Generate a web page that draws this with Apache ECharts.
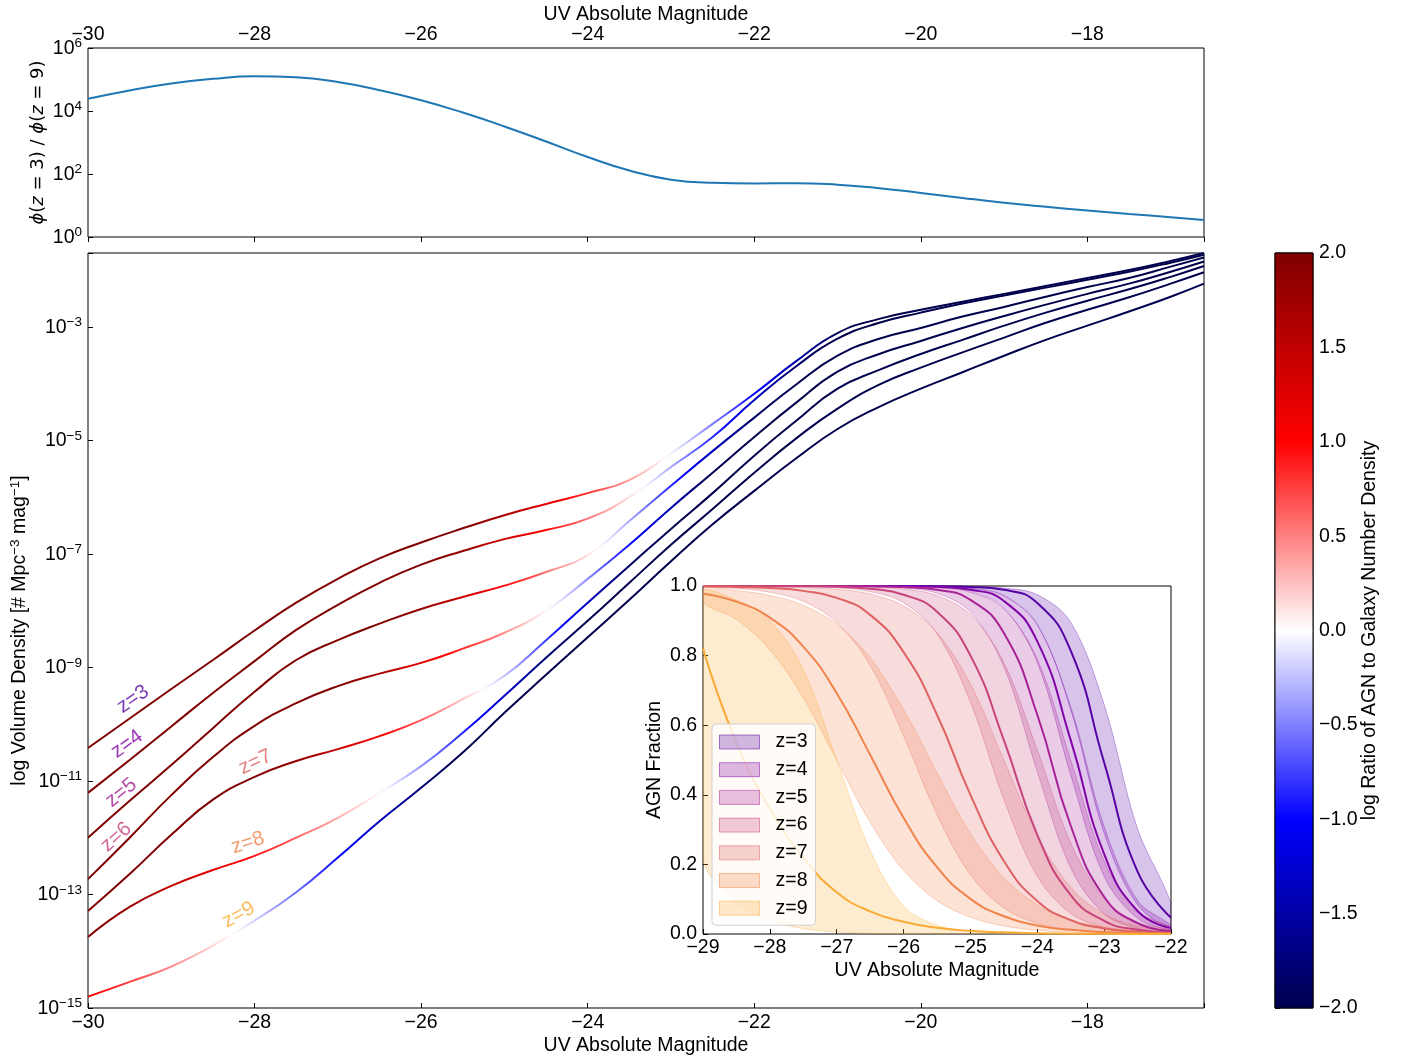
<!DOCTYPE html>
<html><head><meta charset="utf-8">
<script src="https://cdn.jsdelivr.net/npm/echarts@6/dist/echarts.min.js"></script>
<style>html,body{margin:0;padding:0;background:#fff}#c{width:1401px;height:1059px}</style>
</head><body><div id="c"></div>
<script>
// ---------------- DATA ----------------
const mags = [-30,-29.5,-29,-28.5,-28,-27.5,-27,-26.5,-26,-25.5,-25,-24.5,-24,-23.5,-23,-22.5,-22,-21.5,-21,-20.5,-20,-19.5,-19,-18.5,-18,-17.5,-17,-16.6];
const zNames = ['z=3','z=4','z=5','z=6','z=7','z=8','z=9'];
// log10 volume density (total AGN + galaxy)
const logPhi_z3 = [-10.42,-9.90,-9.38,-8.87,-8.35,-7.86,-7.44,-7.08,-6.80,-6.55,-6.32,-6.12,-5.93,-5.70,-5.23,-4.71,-4.18,-3.61,-3.11,-2.86,-2.70,-2.56,-2.42,-2.28,-2.14,-2.00,-1.84,-1.70];
const logPhi_z4 = [-11.21,-10.63,-10.04,-9.45,-8.89,-8.34,-7.90,-7.51,-7.19,-6.95,-6.74,-6.58,-6.38,-6.00,-5.47,-4.94,-4.29,-3.70,-3.21,-2.93,-2.75,-2.59,-2.45,-2.31,-2.17,-2.03,-1.87,-1.73];
const logPhi_z5 = [-12.00,-11.35,-10.72,-10.07,-9.43,-8.87,-8.52,-8.23,-7.97,-7.76,-7.56,-7.32,-7.02,-6.42,-5.80,-5.19,-4.60,-4.02,-3.51,-3.21,-3.02,-2.82,-2.65,-2.47,-2.30,-2.14,-1.94,-1.78];
const logPhi_z6 = [-12.73,-12.00,-11.25,-10.58,-10.03,-9.63,-9.33,-9.11,-8.92,-8.67,-8.39,-8.00,-7.44,-6.84,-6.19,-5.57,-4.94,-4.34,-3.79,-3.48,-3.25,-3.02,-2.81,-2.61,-2.42,-2.24,-2.03,-1.85];
const logPhi_z7 = [-13.29,-12.64,-11.95,-11.33,-10.93,-10.65,-10.44,-10.21,-9.93,-9.56,-9.15,-8.52,-7.86,-7.21,-6.56,-5.93,-5.27,-4.66,-4.09,-3.76,-3.48,-3.23,-2.98,-2.75,-2.54,-2.34,-2.12,-1.93];
const logPhi_z8 = [-13.75,-13.22,-12.85,-12.57,-12.32,-12.00,-11.65,-11.21,-10.74,-10.15,-9.50,-8.83,-8.18,-7.51,-6.84,-6.21,-5.57,-4.97,-4.44,-4.02,-3.72,-3.45,-3.19,-2.93,-2.70,-2.48,-2.24,-2.04];
const logPhi_z9 = [-14.80,-14.54,-14.27,-13.90,-13.46,-12.96,-12.35,-11.71,-11.12,-10.50,-9.80,-9.13,-8.47,-7.81,-7.13,-6.48,-5.89,-5.32,-4.80,-4.41,-4.09,-3.80,-3.51,-3.23,-2.98,-2.73,-2.47,-2.24];
// log ratio of AGN to galaxy number density (line colour)
const logRatio_z3 = [2,2,2,2,2,2,2,2,2,2,1.66,1.23,0.81,0.38,-0.05,-0.52,-1.0,-1.47,-1.95,-2,-2,-2,-2,-2,-2,-2,-2,-2];
const logRatio_z4 = [2,2,2,2,2,2,2,2,2,1.83,1.40,0.98,0.55,0.13,-0.35,-0.85,-1.35,-1.85,-2,-2,-2,-2,-2,-2,-2,-2,-2,-2];
const logRatio_z5 = [2,2,2,2,2,2,2,2,1.83,1.40,0.98,0.55,0.13,-0.35,-0.85,-1.35,-1.85,-2,-2,-2,-2,-2,-2,-2,-2,-2,-2,-2];
const logRatio_z6 = [2,2,2,2,2,2,2,1.64,1.24,0.84,0.44,0.04,-0.45,-0.95,-1.45,-1.95,-2,-2,-2,-2,-2,-2,-2,-2,-2,-2,-2,-2];
const logRatio_z7 = [2,2,2,2,2,1.84,1.44,1.04,0.64,0.24,-0.22,-0.77,-1.32,-1.87,-2,-2,-2,-2,-2,-2,-2,-2,-2,-2,-2,-2,-2,-2];
const logRatio_z8 = [2,1.83,1.53,1.23,0.93,0.63,0.33,0.03,-0.41,-0.86,-1.31,-1.76,-2,-2,-2,-2,-2,-2,-2,-2,-2,-2,-2,-2,-2,-2,-2,-2];
const logRatio_z9 = [1.08,0.78,0.48,0.18,-0.16,-0.56,-0.96,-1.36,-1.76,-2,-2,-2,-2,-2,-2,-2,-2,-2,-2,-2,-2,-2,-2,-2,-2,-2,-2,-2];
// top panel: log10 phi(z=3)/phi(z=9)
const logPhiRatio_3_9 = [4.39,4.65,4.87,5.02,5.10,5.07,4.92,4.66,4.34,3.95,3.51,3.03,2.54,2.11,1.82,1.72,1.70,1.71,1.66,1.55,1.40,1.24,1.09,0.96,0.84,0.73,0.63,0.54];
// inset: AGN fraction (median, lower, upper)
const insetMags = [-29,-28.5,-28,-27.5,-27,-26.5,-26,-25.5,-25,-24.5,-24,-23.5,-23,-22.5,-22];
const frac_z3    = [1,1,1,1,1,1,0.9999,0.9994,0.9974,0.989,0.951,0.814,0.493,0.179,0.047];
const frac_z3_lo = [1,1,1,1,1,0.9999,0.9997,0.9986,0.9939,0.973,0.890,0.645,0.29,0.084,0.020];
const frac_z3_hi = [1,1,1,1,1,1,1,0.9997,0.9987,0.9942,0.975,0.896,0.659,0.302,0.088];
const frac_z4    = [1,1,1,1,1,0.9999,0.9994,0.9975,0.989,0.957,0.841,0.557,0.23,0.066,0.017];
const frac_z4_lo = [1,1,1,1,1,0.9998,0.999,0.9963,0.984,0.937,0.78,0.457,0.166,0.045,0.011];
const frac_z4_hi = [1,1,1,1,1,1,0.9997,0.9983,0.993,0.971,0.888,0.653,0.309,0.096,0.0245];
const frac_z5    = [1,1,1,0.9999,0.9998,0.9992,0.997,0.989,0.96,0.865,0.63,0.311,0.107,0.031,0.008];
const frac_z5_lo = [1,1,1,0.9999,0.9996,0.9985,0.9943,0.979,0.925,0.768,0.467,0.19,0.058,0.016,0.0044];
const frac_z5_hi = [1,1,1,1,0.9999,0.9996,0.9987,0.995,0.9815,0.934,0.79,0.5,0.21,0.066,0.0185];
const frac_z6    = [1,0.9999,0.9997,0.9992,0.9975,0.992,0.975,0.926,0.80,0.557,0.285,0.112,0.038,0.012,0.004];
const frac_z6_lo = [1,0.9998,0.9995,0.9984,0.995,0.984,0.952,0.863,0.666,0.387,0.166,0.059,0.0196,0.0063,0.002];
const frac_z6_hi = [1,1,0.9999,0.9997,0.9991,0.9972,0.9912,0.9726,0.918,0.78,0.529,0.262,0.101,0.034,0.011];
const frac_z7    = [0.999,0.997,0.994,0.986,0.966,0.917,0.81,0.63,0.40,0.21,0.095,0.04,0.016,0.006,0.0025];
const frac_z7_lo = [0.9972,0.993,0.982,0.956,0.895,0.772,0.569,0.343,0.17,0.075,0.031,0.0124,0.0049,0.0019,0.0008];
const frac_z7_hi = [0.9998,0.9994,0.9985,0.9963,0.9906,0.977,0.943,0.866,0.718,0.5,0.282,0.134,0.057,0.023,0.0093];
const frac_z8    = [0.978,0.955,0.909,0.826,0.692,0.515,0.334,0.192,0.101,0.051,0.0245,0.012,0.0056,0.0027,0.0013];
const frac_z8_lo = [0.952,0.904,0.817,0.679,0.5,0.321,0.183,0.096,0.048,0.023,0.011,0.0053,0.0025,0.0012,0.0006];
const frac_z8_hi = [0.9939,0.987,0.973,0.945,0.89,0.794,0.645,0.463,0.289,0.162,0.084,0.041,0.020,0.0096,0.0046];
const frac_z9    = [0.82,0.55,0.36,0.22,0.12,0.065,0.035,0.018,0.009,0.005,0.002,0.001,0.0005,0.0002,0.0001];
const frac_z9_lo = [0.22,0.09,0.04,0.015,0.006,0.002,0.001,0.0005,0.0002,0.0001,0,0,0,0,0];
const frac_z9_hi = [0.985,0.96,0.9,0.76,0.5,0.24,0.08,0.025,0.008,0.003,0.001,0.0005,0.0002,0.0001,0];
// tick values
const mainXTicks = [-30,-28,-26,-24,-22,-20,-18];
const mainYTicks = [-15,-13,-11,-9,-7,-5,-3];
const topYTicks = [0,2,4,6];
const insetXTicks = [-29,-28,-27,-26,-25,-24,-23,-22];
const cbarTicks = [-2,-1.5,-1,-0.5,0,0.5,1,1.5,2];
// annotation positions of the z labels (data coords) and their angle
const zLabelPos = [[-29.46,-9.56],[-29.53,-10.35],[-29.60,-11.21],[-29.66,-11.99],[-27.99,-10.67],[-28.08,-12.09],[-28.19,-13.36]];
const zLabelAngle = [35,36,39,42,25,18,29];

// ---------------- STYLE ----------------
const FONT = "'Liberation Sans', Arial, Helvetica, sans-serif";
const MATH = "'DejaVu Sans', sans-serif";
const FS = 19.5;
const zColors = ['#5502a4','#8104a7','#a82296','#c8437b','#df6263','#f0844c','#faab35'];
const MINUS = '\u2212';
function fmt(v){ return v < 0 ? MINUS + String(Math.abs(v)) : String(v); }
function fmt1(v){ const s = Math.abs(v).toFixed(1); return v < -1e-9 ? MINUS + s : s; }
function rgba(hex, a){ const n = parseInt(hex.slice(1),16); return 'rgba('+((n>>16)&255)+','+((n>>8)&255)+','+(n&255)+','+a+')'; }
function seismic(v){
  const t = (Math.max(-2, Math.min(2, v)) + 2) / 4;
  const st = [[0,[0,0,76.5]],[0.25,[0,0,255]],[0.5,[255,255,255]],[0.75,[255,0,0]],[1,[127.5,0,0]]];
  for (let i = 0; i < st.length - 1; i++) {
    if (t <= st[i+1][0]) {
      const f = (t - st[i][0]) / (st[i+1][0] - st[i][0]);
      const c = st[i][1].map((x,j)=> Math.round(x + (st[i+1][1][j]-x)*f));
      return 'rgb('+c.join(',')+')';
    }
  }
  return 'rgb(128,0,0)';
}
function gradientFor(ratio){
  const m0 = mags[0], m1 = mags[mags.length-1];
  const stops = [];
  const S = 6;
  for (let i = 0; i < mags.length - 1; i++) {
    for (let s = 0; s < S; s++) {
      const t = s / S;
      const m = mags[i] + (mags[i+1]-mags[i])*t;
      const r = ratio[i] + (ratio[i+1]-ratio[i])*t;
      stops.push({offset: (m-m0)/(m1-m0), color: seismic(r)});
    }
  }
  stops.push({offset:1, color: seismic(ratio[ratio.length-1])});
  return new echarts.graphic.LinearGradient(0,0,1,0,stops);
}
const richTick = {
  b: {fontFamily: FONT, fontSize: FS, color: '#000', verticalAlign: 'bottom', lineHeight: 21},
  s: {fontFamily: FONT, fontSize: 13.5, color: '#000', verticalAlign: 'bottom', lineHeight: 14, padding: [0,0,8,0]}
};
const tickStyle = {show:true, inside:true, length:5, lineStyle:{color:'#000', width:1}};
const labelBase = {fontFamily: FONT, fontSize: FS, color: '#000'};
const nameBase = {fontFamily: FONT, fontSize: FS, color: '#000'};

const logPhi = [logPhi_z3, logPhi_z4, logPhi_z5, logPhi_z6, logPhi_z7, logPhi_z8, logPhi_z9];
const logRatio = [logRatio_z3, logRatio_z4, logRatio_z5, logRatio_z6, logRatio_z7, logRatio_z8, logRatio_z9];
const fracMed = [frac_z3, frac_z4, frac_z5, frac_z6, frac_z7, frac_z8, frac_z9];
const fracLo = [frac_z3_lo, frac_z4_lo, frac_z5_lo, frac_z6_lo, frac_z7_lo, frac_z8_lo, frac_z9_lo];
const fracHi = [frac_z3_hi, frac_z4_hi, frac_z5_hi, frac_z6_hi, frac_z7_hi, frac_z8_hi, frac_z9_hi];

// ---------------- CHART ----------------
const chart = echarts.init(document.getElementById('c'), null, {renderer:'canvas'});
const grids = [
  {left:88, top:48, width:1116, height:189},
  {left:88, top:253, width:1116, height:755},
  {left:703, top:586, width:468, height:348, backgroundColor:'#fff'},
  {left:1275, top:253, width:38, height:755}
].map(g => Object.assign({show:true, borderColor:'#000', borderWidth:1, containLabel:false, outerBoundsMode:'none', z:0}, g));

const SM = 0.5;
const series = [];
series.push({type:'line', name:'ratio', xAxisIndex:0, yAxisIndex:0, data: mags.map((m,i)=>[m, logPhiRatio_3_9[i]]),
  showSymbol:false, smooth:SM, lineStyle:{color:'#1f77b4', width:2}, silent:true});
zNames.forEach((n,k)=>{
  series.push({type:'line', name:'LF '+n, xAxisIndex:1, yAxisIndex:1, data: mags.map((m,i)=>[m, logPhi[k][i]]),
    showSymbol:false, smooth:SM, lineStyle:{width:2, color: gradientFor(logRatio[k])}, silent:true, z:3});
});
series.push({type:'scatter', name:'zlabels', xAxisIndex:1, yAxisIndex:1, symbolSize:0, silent:true, z:6,
  data: zLabelPos.map((p,k)=>({value:p, label:{show:true, position:'inside', formatter: zNames[k], color: zColors[k],
    rotate: zLabelAngle[k], fontSize: 20.5, fontFamily: FONT}}))});

function bandRender(fill, edge){
  return function(params, api){
    if (params.dataIndexInside !== 0) return null;
    const n = params.dataInsideLength;
    const up = [], dn = [];
    for (let i = 0; i < n; i++) {
      up.push(api.coord([api.value(0,i), api.value(2,i)]));
      dn.push(api.coord([api.value(0,i), api.value(1,i)]));
    }
    const pts = up.concat(dn.reverse());
    const cs = params.coordSys;
    return {type:'polygon', shape:{points: pts, smooth: 0.35,
      smoothConstraint: [[cs.x, cs.y],[cs.x+cs.width, cs.y+cs.height]]},
      style:{fill: fill, stroke: edge, lineWidth: 1}};
  };
}
zNames.forEach((n,k)=>{
  const col = zColors[k];
  series.push({type:'custom', name:n, xAxisIndex:2, yAxisIndex:2, clip:true, silent:true, z:3,
    itemStyle:{color: rgba(col,0.25)},
    data: insetMags.map((m,i)=>[m, fracLo[k][i], fracHi[k][i]]),
    renderItem: bandRender(rgba(col,0.23), rgba(col,0.33))});
  series.push({type:'line', name:n+' med', xAxisIndex:2, yAxisIndex:2,
    data: insetMags.map((m,i)=>[m, fracMed[k][i]]), showSymbol:false, smooth:SM,
    lineStyle:{width:2, color: col}, silent:true, z:4});
});
const cbStops = [];
for (let v = 2; v >= -2.0001; v -= 0.25) cbStops.push({offset:(2-v)/4, color: seismic(v)});
series.push({type:'custom', name:'cbar', xAxisIndex:3, yAxisIndex:3, silent:true,
  data:[[0, cbarTicks[0], 1, cbarTicks[cbarTicks.length-1]]],
  renderItem:(params, api)=>{
    const p0 = api.coord([api.value(0), api.value(3)]);
    const p1 = api.coord([api.value(2), api.value(1)]);
    return {type:'rect', shape:{x:p0[0], y:p0[1], width:p1[0]-p0[0], height:p1[1]-p0[1]},
      style:{fill: new echarts.graphic.LinearGradient(0,0,0,1,cbStops), stroke:'#000', lineWidth:1}};
  }});

const option = {
  animation:false,
  backgroundColor:'#fff',
  grid: grids,
  legend: {
    data: zNames.map((n,k)=>({name:n, icon:'rect', itemStyle:{color: rgba(zColors[k],0.28), borderColor: rgba(zColors[k],0.5), borderWidth:1}})),
    left:712, top:724, orient:'vertical', itemWidth:40, itemHeight:14, itemGap:7.7,
    textStyle:{fontFamily:FONT, fontSize:FS, color:'#000', lineHeight:18, padding:[0,0,0,11]},
    backgroundColor:'rgba(255,255,255,0.8)', borderColor:'#d0d0d0', borderWidth:1, borderRadius:4,
    padding:[8,8,7,7], selectedMode:false, z:10
  },
  xAxis: [
    {gridIndex:0, type:'value', min:-30, max:-16.6, interval:2, position:'top',
      axisLine:{show:false}, axisTick:tickStyle, splitLine:{show:false},
      axisLabel:Object.assign({margin:3.5, formatter:v=> mainXTicks.includes(v) ? fmt(v) : ''}, labelBase),
      name:'UV Absolute Magnitude', nameLocation:'middle', nameGap:23, nameTextStyle:nameBase, nameMoveOverlap:false},
    {gridIndex:1, type:'value', min:-30, max:-16.6, interval:2, position:'bottom',
      axisLine:{show:false}, axisTick:tickStyle, splitLine:{show:false},
      axisLabel:Object.assign({margin:5, formatter:v=> mainXTicks.includes(v) ? fmt(v) : ''}, labelBase),
      name:'UV Absolute Magnitude', nameLocation:'middle', nameGap:28, nameTextStyle:nameBase, nameMoveOverlap:false},
    {gridIndex:2, type:'value', min:-29, max:-22, interval:1, position:'bottom',
      axisLine:{show:false}, axisTick:tickStyle, splitLine:{show:false},
      axisLabel:Object.assign({margin:4, formatter:v=> insetXTicks.includes(v) ? fmt(v) : ''}, labelBase),
      name:'UV Absolute Magnitude', nameLocation:'middle', nameGap:27, nameTextStyle:nameBase, nameMoveOverlap:false},
    {gridIndex:3, type:'value', min:0, max:1, show:false}
  ],
  yAxis: [
    {gridIndex:0, type:'value', min:0, max:6, interval:2,
      axisLine:{show:false}, axisTick:tickStyle, splitLine:{show:false},
      axisLabel:{margin:6, rich:richTick, formatter:v=> topYTicks.includes(v) ? '{b|10}{s|'+fmt(v)+'}' : ''},
      name:'{i|ϕ}{a|(}{i|z}{a| = 3) / }{i|ϕ}{a|(}{i|z}{a| = 9)}', nameLocation:'middle', nameGap:41, nameRotate:90, nameMoveOverlap:false,
      nameTextStyle:{fontFamily:MATH, fontSize:18, color:'#000', rich:{
        a:{fontFamily:MATH, fontSize:18, color:'#000'}, i:{fontFamily:MATH, fontSize:18, fontStyle:'italic', color:'#000'}}}},
    {gridIndex:1, type:'value', min:-15, max:-1.7, interval:2,
      axisLine:{show:false}, axisTick:tickStyle, splitLine:{show:false},
      axisLabel:{margin:6, rich:richTick, formatter:v=> mainYTicks.includes(v) ? '{b|10}{s|'+fmt(v)+'}' : ''},
      name:'{a|log Volume Density [# Mpc}{s|−3}{a| mag}{s|−1}{a|]}', nameLocation:'middle', nameGap:58, nameRotate:90, nameMoveOverlap:false,
      nameTextStyle:{fontFamily:FONT, fontSize:FS, color:'#000', rich:{
        a:{fontFamily:FONT, fontSize:FS, color:'#000', verticalAlign:'bottom', lineHeight:21},
        s:{fontFamily:FONT, fontSize:13.5, color:'#000', verticalAlign:'bottom', lineHeight:14, padding:[0,0,8,0]}}}},
    {gridIndex:2, type:'value', min:0, max:1, interval:0.2,
      axisLine:{show:false}, axisTick:tickStyle, splitLine:{show:false},
      axisLabel:Object.assign({margin:6, formatter:v=> fmt1(v)}, labelBase),
      name:'AGN Fraction', nameLocation:'middle', nameGap:38, nameRotate:90, nameTextStyle:nameBase, nameMoveOverlap:false},
    {gridIndex:3, type:'value', min:-2, max:2, interval:0.5, position:'right',
      axisLine:{show:false}, axisTick:{show:true, inside:false, length:5, lineStyle:{color:'#000'}}, splitLine:{show:false},
      axisLabel:Object.assign({margin:6, formatter:v=> cbarTicks.includes(v) ? fmt1(v) : ''}, labelBase),
      name:'log Ratio of AGN to Galaxy Number Density', nameLocation:'middle', nameGap:47, nameRotate:90, nameTextStyle:nameBase, nameMoveOverlap:false}
  ],
  series: series
};
chart.setOption(option);
</script>
</body></html>
